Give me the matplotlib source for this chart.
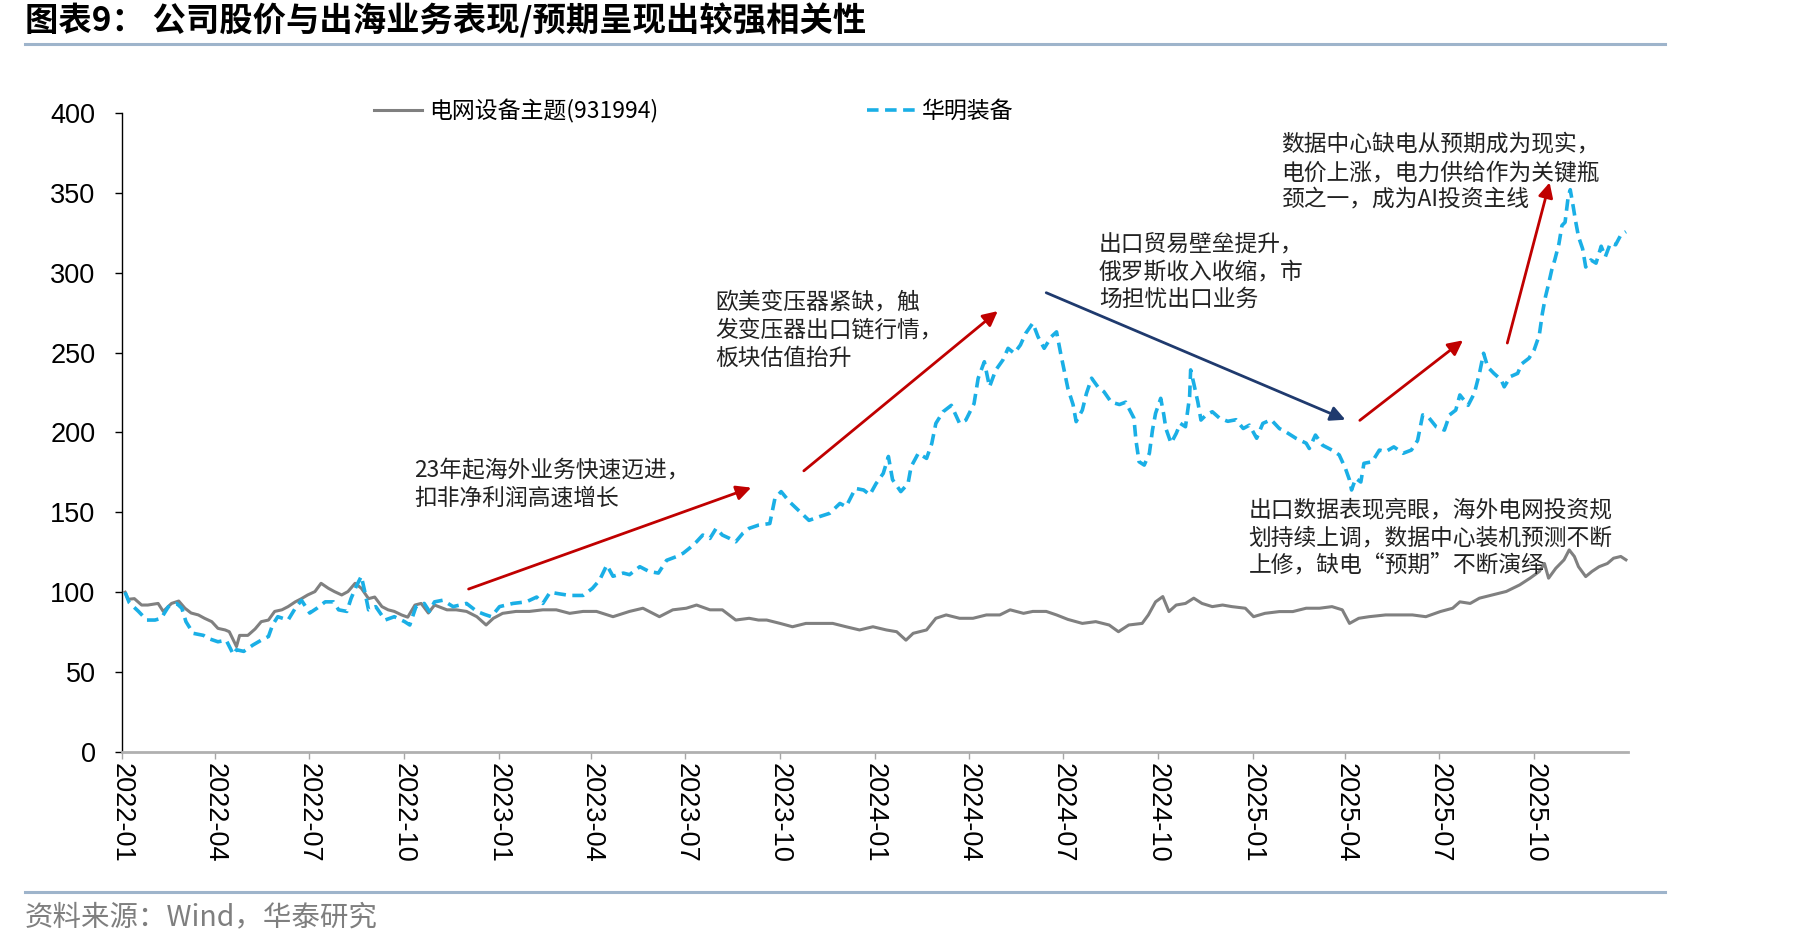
import matplotlib
matplotlib.use("Agg")
import matplotlib.pyplot as plt
import matplotlib.dates as mdates
from matplotlib.lines import Line2D
import pandas as pd

plt.rcParams['font.family'] = ['Noto Sans CJK SC', 'DejaVu Sans']
NUM_FONT = ['Liberation Sans Narrow', 'Liberation Sans', 'DejaVu Sans']

# 电网设备主题(931994)
idx_dates = [
    "2022-01-04", "2022-01-07", "2022-01-13", "2022-01-20", "2022-01-26", "2022-02-05", "2022-02-10",
    "2022-02-18", "2022-02-25", "2022-03-03", "2022-03-09", "2022-03-16", "2022-03-22", "2022-03-29",
    "2022-04-04", "2022-04-11", "2022-04-15", "2022-04-22", "2022-04-25", "2022-05-03", "2022-05-10",
    "2022-05-16", "2022-05-23", "2022-05-29", "2022-06-05", "2022-06-11", "2022-06-18", "2022-06-24",
    "2022-06-30", "2022-07-07", "2022-07-13", "2022-07-20", "2022-07-26", "2022-08-02", "2022-08-08",
    "2022-08-15", "2022-08-21", "2022-08-28", "2022-09-03", "2022-09-10", "2022-09-16", "2022-09-22",
    "2022-09-29", "2022-10-05", "2022-10-12", "2022-10-18", "2022-10-25", "2022-10-31", "2022-11-08",
    "2022-11-12", "2022-11-21", "2022-12-01", "2022-12-11", "2022-12-20", "2022-12-27", "2023-01-05",
    "2023-01-18", "2023-01-31", "2023-02-13", "2023-02-26", "2023-03-11", "2023-03-24", "2023-04-06",
    "2023-04-22", "2023-05-08", "2023-05-21", "2023-06-06", "2023-06-19", "2023-07-02", "2023-07-12",
    "2023-07-25", "2023-08-06", "2023-08-19", "2023-09-01", "2023-09-10", "2023-09-18", "2023-10-01",
    "2023-10-13", "2023-10-26", "2023-11-08", "2023-11-21", "2023-12-04", "2023-12-17", "2023-12-30",
    "2024-01-12", "2024-01-22", "2024-01-31", "2024-02-07", "2024-02-20", "2024-02-29", "2024-03-10",
    "2024-03-23", "2024-04-05", "2024-04-18", "2024-05-01", "2024-05-11", "2024-05-24", "2024-06-02",
    "2024-06-15", "2024-06-25", "2024-07-06", "2024-07-20", "2024-08-02", "2024-08-15", "2024-08-24",
    "2024-09-03", "2024-09-16", "2024-09-22", "2024-09-29", "2024-10-06", "2024-10-12", "2024-10-19",
    "2024-10-28", "2024-11-05", "2024-11-13", "2024-11-23", "2024-12-03", "2024-12-12", "2024-12-25",
    "2025-01-02", "2025-01-13", "2025-01-27", "2025-02-09", "2025-02-22", "2025-03-07", "2025-03-19",
    "2025-03-29", "2025-04-05", "2025-04-14", "2025-04-24", "2025-05-10", "2025-05-23", "2025-06-05",
    "2025-06-18", "2025-07-02", "2025-07-14", "2025-07-21", "2025-07-31", "2025-08-09", "2025-08-22",
    "2025-09-04", "2025-09-17", "2025-09-27", "2025-10-06", "2025-10-11", "2025-10-15", "2025-10-22",
    "2025-10-30", "2025-11-04", "2025-11-09", "2025-11-13", "2025-11-20", "2025-11-26", "2025-12-03",
    "2025-12-11", "2025-12-17", "2025-12-24", "2025-12-29",
]
idx_vals = [
    100, 95.6, 96, 92, 92, 93, 88,
    93, 94.5, 90, 87, 85.8, 83.7, 81.6,
    77.4, 76.4, 75.3, 66, 73, 73, 77,
    81.6, 82.6, 88, 89, 91, 94, 96,
    98.3, 100.4, 105.6, 102.5, 100.4, 98.3, 100.4,
    105.6, 102.5, 96, 97, 91, 89, 88,
    85.8, 84.4, 92, 93, 87, 92, 90,
    89, 89, 88, 84.7, 79.5, 83.7, 86.8,
    88, 88, 89, 89, 86.8, 88, 88,
    84.7, 88, 90, 84.7, 89, 90, 92,
    89, 89, 82.6, 83.7, 82.6, 82.6, 80.5,
    78.4, 80.5, 80.5, 80.5, 78.4, 76.4, 78.4,
    76.4, 75.3, 70, 74.3, 76.4, 83.7, 85.8,
    83.7, 83.7, 85.8, 85.8, 89, 86.8, 88,
    88, 85.8, 83, 80.5, 81.6, 79.5, 75.3,
    79.5, 80.5, 85.8, 94, 97.3, 87.9, 92,
    93, 96.3, 93, 91, 92, 91, 90,
    84.7, 86.8, 87.9, 87.9, 90, 90, 91,
    89, 80.5, 83.7, 84.7, 85.8, 85.8, 85.8,
    84.7, 87.9, 90, 94, 93, 96.3, 98.4,
    100.5, 104.6, 108.8, 113, 118, 108.8, 115,
    120.3, 126.5, 122.4, 116, 109.8, 113, 116,
    118, 121.3, 122.4, 120.3,
]

# 华明装备
hm_dates = [
    "2022-01-04", "2022-01-08", "2022-01-17", "2022-01-25", "2022-02-02", "2022-02-08", "2022-02-15",
    "2022-02-23", "2022-02-28", "2022-03-04", "2022-03-11", "2022-03-21", "2022-03-26", "2022-04-04",
    "2022-04-12", "2022-04-19", "2022-04-22", "2022-04-29", "2022-05-08", "2022-05-16", "2022-05-23",
    "2022-05-27", "2022-06-01", "2022-06-11", "2022-06-18", "2022-06-24", "2022-07-02", "2022-07-09",
    "2022-07-17", "2022-07-25", "2022-07-30", "2022-08-07", "2022-08-11", "2022-08-16", "2022-08-21",
    "2022-08-24", "2022-08-28", "2022-09-04", "2022-09-13", "2022-09-22", "2022-10-02", "2022-10-07",
    "2022-10-13", "2022-10-21", "2022-10-26", "2022-10-31", "2022-11-08", "2022-11-18", "2022-12-01",
    "2022-12-11", "2022-12-19", "2022-12-25", "2023-01-02", "2023-01-15", "2023-01-28", "2023-02-07",
    "2023-02-13", "2023-02-20", "2023-03-01", "2023-03-11", "2023-03-24", "2023-04-02", "2023-04-09",
    "2023-04-16", "2023-04-22", "2023-05-02", "2023-05-08", "2023-05-18", "2023-05-27", "2023-06-05",
    "2023-06-13", "2023-06-22", "2023-06-29", "2023-07-05", "2023-07-12", "2023-07-18", "2023-07-25",
    "2023-07-31", "2023-08-06", "2023-08-13", "2023-08-19", "2023-08-26", "2023-09-01", "2023-09-10",
    "2023-09-21", "2023-09-26", "2023-10-02", "2023-10-10", "2023-10-20", "2023-10-29", "2023-11-08",
    "2023-11-18", "2023-11-28", "2023-12-04", "2023-12-13", "2023-12-21", "2023-12-27", "2024-01-02",
    "2024-01-09", "2024-01-14", "2024-01-18", "2024-01-26", "2024-02-02", "2024-02-05", "2024-02-12",
    "2024-02-20", "2024-02-25", "2024-02-29", "2024-03-07", "2024-03-15", "2024-03-23", "2024-03-29",
    "2024-04-06", "2024-04-10", "2024-04-16", "2024-04-21", "2024-04-27", "2024-05-04", "2024-05-09",
    "2024-05-15", "2024-05-21", "2024-05-26", "2024-06-02", "2024-06-07", "2024-06-13", "2024-06-20",
    "2024-06-25", "2024-06-29", "2024-07-03", "2024-07-06", "2024-07-11", "2024-07-14", "2024-07-20",
    "2024-07-24", "2024-07-29", "2024-08-04", "2024-08-10", "2024-08-17", "2024-08-25", "2024-08-31",
    "2024-09-08", "2024-09-10", "2024-09-13", "2024-09-18", "2024-09-23", "2024-09-26", "2024-09-29",
    "2024-10-04", "2024-10-07", "2024-10-09", "2024-10-14", "2024-10-19", "2024-10-23", "2024-10-28",
    "2024-11-01", "2024-11-02", "2024-11-05", "2024-11-09", "2024-11-12", "2024-11-17", "2024-11-23",
    "2024-11-30", "2024-12-08", "2024-12-16", "2024-12-23", "2024-12-29", "2025-01-05", "2025-01-11",
    "2025-01-19", "2025-01-27", "2025-02-02", "2025-02-12", "2025-02-22", "2025-02-25", "2025-03-03",
    "2025-03-10", "2025-03-19", "2025-03-26", "2025-04-01", "2025-04-05", "2025-04-07", "2025-04-11",
    "2025-04-16", "2025-04-19", "2025-04-27", "2025-05-04", "2025-05-10", "2025-05-18", "2025-05-27",
    "2025-06-04", "2025-06-10", "2025-06-15", "2025-06-20", "2025-06-28", "2025-07-06", "2025-07-11",
    "2025-07-17", "2025-07-21", "2025-07-29", "2025-08-04", "2025-08-09", "2025-08-13", "2025-08-17",
    "2025-08-23", "2025-08-30", "2025-09-02", "2025-09-08", "2025-09-15", "2025-09-19", "2025-09-26",
    "2025-10-01", "2025-10-06", "2025-10-09", "2025-10-12", "2025-10-15", "2025-10-18", "2025-10-21",
    "2025-10-25", "2025-10-28", "2025-10-31", "2025-11-03", "2025-11-05", "2025-11-08", "2025-11-10",
    "2025-11-13", "2025-11-17", "2025-11-20", "2025-11-25", "2025-11-30", "2025-12-05", "2025-12-09",
    "2025-12-14", "2025-12-19", "2025-12-24", "2025-12-29",
]
hm_vals = [
    100, 93.5, 88, 82.6, 82.6, 83.7, 91,
    93, 90, 81.6, 74.3, 73, 71, 69,
    70, 61, 64, 63, 67, 70, 72.3,
    79.6, 84.7, 82.6, 90, 95, 87, 90,
    94, 94, 89, 88, 96, 103.6, 110,
    101.5, 89, 91, 82.6, 84.7, 81.6, 79.5,
    91, 93, 88, 94, 95, 91, 93,
    88, 86, 84.7, 91, 93, 94, 97,
    93, 100, 99, 98, 98, 102.4, 107.6,
    117, 110, 112, 111, 116, 113, 112,
    120, 122.2, 124.4, 127.5, 131.6, 135.8, 133.7,
    140, 135.8, 133.7, 131.6, 137, 140, 142,
    143, 158.8, 163, 156.7, 150.5, 145, 147.3,
    149.4, 155.6, 153.6, 165, 164, 161, 168,
    174.4, 185, 170.5, 163, 168, 178.6, 187,
    183.8, 193, 205.7, 213, 217, 205.7, 207.7,
    218, 233.9, 244.3, 228.6, 239, 245.4, 252.7,
    249.6, 254.8, 262, 268.5, 260, 252.7, 260,
    263, 249.5, 237, 227.6, 217.5, 206.8, 214,
    224.5, 234, 228.6, 225.5, 219, 217.5, 219,
    209, 195, 181.7, 179.6, 187, 201.5, 212,
    221.4, 211, 202.5, 193.3, 199.4, 205.7, 203.6,
    222.4, 239.2, 230.8, 219, 207.8, 211, 213,
    209, 207, 208, 202.5, 204.6, 196.4, 205.7,
    208, 202.5, 200.5, 196.4, 193.3, 190, 198.4,
    192, 189, 186, 177.6, 170.3, 164, 171.3,
    169, 180.7, 181.7, 189, 188, 191, 187,
    189, 195, 211, 210, 203.6, 201.5, 211,
    214, 223.5, 217, 224.5, 237, 249.6, 241,
    237, 233, 228.6, 235, 237, 243, 246.5,
    251.7, 261, 274.6, 285, 293, 301.6, 308,
    318, 329.6, 331.6, 347.5, 352, 341, 333,
    322.6, 315, 303.6, 308, 306, 316.6, 310,
    318.6, 317.5, 323.6, 325.7,
]

idx_label = "电网设备主题(931994)"
hm_label = "华明装备"

W, H = 1819, 947
fig = plt.figure(figsize=(W / 100, H / 100), dpi=100)
fig.patch.set_facecolor("white")
ax = fig.add_axes([122 / W, 1 - 752 / H, (1628 - 122) / W, (752 - 113) / H])

ax.plot(pd.to_datetime(idx_dates), idx_vals, color="#808080", lw=2.2, label=idx_label, zorder=2)
ax.plot(pd.to_datetime(hm_dates), hm_vals, color="#1AAFE6", lw=2.6, ls=(0, (3.2, 1.8)),
        label=hm_label, zorder=3)

ax.set_ylim(0, 400)
ax.set_yticks(range(0, 401, 50))
ax.set_xlim(pd.Timestamp("2022-01-01"), pd.Timestamp("2025-12-31"))
ax.xaxis.set_major_locator(mdates.MonthLocator(bymonth=[1, 4, 7, 10]))
ax.xaxis.set_major_formatter(mdates.DateFormatter("%Y-%m"))

for s in ["top", "right"]:
    ax.spines[s].set_visible(False)
ax.spines["left"].set_color("black")
ax.spines["left"].set_linewidth(1.0)
ax.spines["bottom"].set_color("#B0B0B0")
ax.spines["bottom"].set_linewidth(2.0)
ax.tick_params(axis="y", direction="out", length=5, width=1, color="black", pad=14)
ax.tick_params(axis="x", direction="out", length=5, width=1, color="#A6A6A6", pad=3)
for lab in ax.get_yticklabels():
    lab.set_family(NUM_FONT)
    lab.set_fontsize(19.5)
for lab in ax.get_xticklabels():
    lab.set_family(NUM_FONT)
    lab.set_fontsize(19.5)
    lab.set_rotation(-90)
    lab.set_ha("center")
    lab.set_va("top")

fig.legend(loc="center left", bbox_to_anchor=(374 / W, 1 - 111 / H), ncol=2, frameon=False,
           fontsize=16.5, handlelength=2.1, handletextpad=0.3, columnspacing=9.1,
           borderpad=0, borderaxespad=0)

# annotations
txt_kw = dict(fontsize=16.4, color="#222222", ha="left", va="top", linespacing=1.24)
ax.text(pd.Timestamp("2022-10-11"), 183.5, "23年起海外业务快速迈进，\n扣非净利润高速增长", **txt_kw)
ax.text(pd.Timestamp("2023-07-30"), 288, "欧美变压器紧缺，触\n发变压器出口链行情，\n板块估值抬升", **txt_kw)
ax.text(pd.Timestamp("2024-08-05"), 325, "出口贸易壁垒提升，\n俄罗斯收入收缩，市\n场担忧出口业务", **txt_kw)
ax.text(pd.Timestamp("2025-01-29"), 387, "数据中心缺电从预期成为现实，\n电价上涨，电力供给作为关键瓶\n颈之一，成为AI投资主线", **txt_kw)
ax.text(pd.Timestamp("2024-12-28"), 158.5, "出口数据表现亮眼，海外电网投资规\n划持续上调，数据中心装机预测不断\n上修，缺电“预期”不断演绎", **txt_kw)

red = "#C00000"
navy = "#1F3A6E"
arrows = [
    ("2022-12-03", 102, "2023-09-03", 165.5, red),
    ("2023-10-24", 176, "2024-04-29", 276, red),
    ("2024-06-15", 287.5, "2025-04-01", 208, navy),
    ("2025-04-15", 207.6, "2025-07-24", 257.7, red),
    ("2025-09-05", 256, "2025-10-16", 356.5, red),
]
for d0, v0, d1, v1, c in arrows:
    ax.annotate("", xy=(pd.Timestamp(d1), v1), xytext=(pd.Timestamp(d0), v0),
                arrowprops=dict(arrowstyle="-|>", color=c, lw=2.0, mutation_scale=22,
                                shrinkA=0, shrinkB=0), zorder=4)

# title, rules and source
fig.text(25 / W, 1 - 21 / H, "图表9： 公司股价与出海业务表现/预期呈现出较强相关性", fontsize=24,
         fontweight="bold", color="black", ha="left", va="center")
fig.add_artist(Line2D([25 / W, 1665 / W], [1 - 44 / H] * 2, color="#9EB4CB", lw=2.2))
fig.add_artist(Line2D([25 / W, 1665 / W], [1 - 892 / H] * 2, color="#9EB4CB", lw=2.2))
fig.text(25 / W, 1 - 917 / H, "资料来源：Wind，华泰研究", fontsize=20.5, color="#7F7F7F",
         ha="left", va="center")

fig.savefig("out.png", dpi=100, facecolor="white")
